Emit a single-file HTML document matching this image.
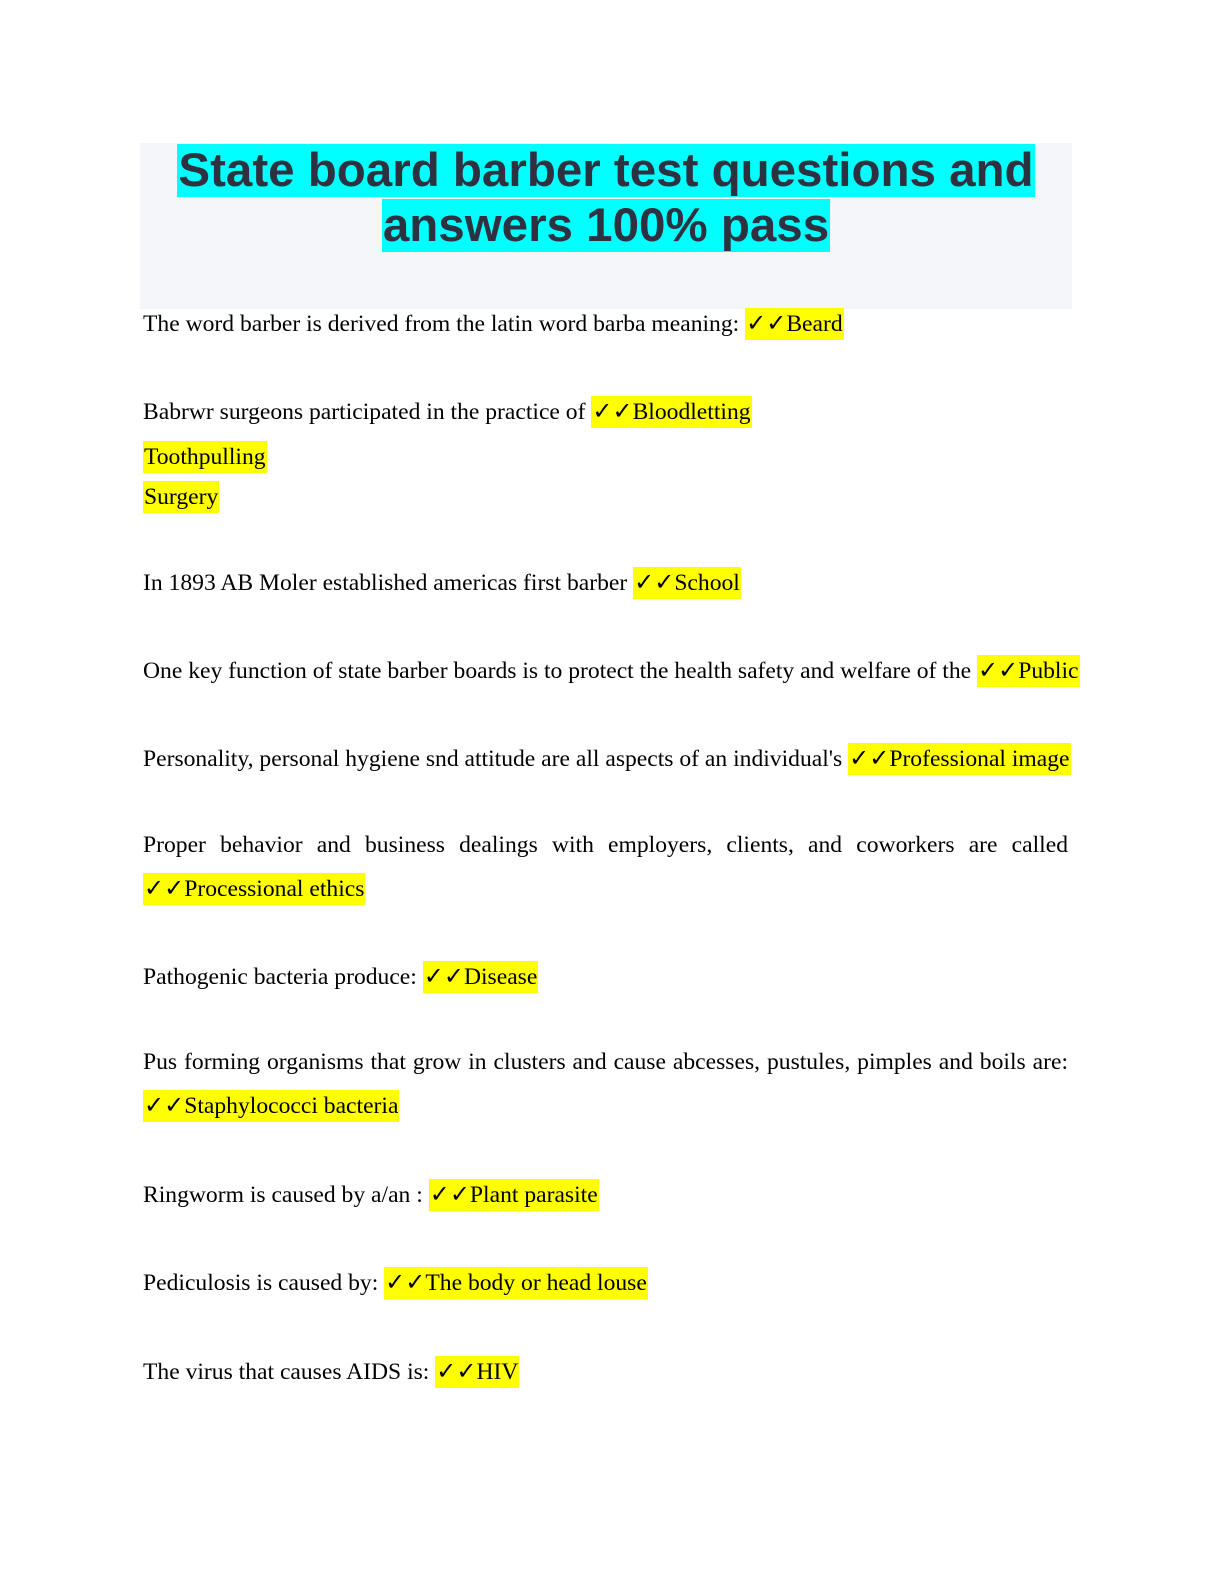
<!DOCTYPE html>
<html><head><meta charset="utf-8"><style>
html,body{margin:0;padding:0;background:#fff;width:1224px;height:1584px;overflow:hidden;position:relative}
.hd{position:absolute;left:140px;top:143px;width:932px;height:166px;background:#f5f6fa}
.t{position:absolute;left:140px;width:932px;text-align:center;font-family:"Liberation Sans",sans-serif;font-weight:bold;font-size:47.5px;line-height:55px;color:#2e3140}
.t span{background:#00ffff;padding:0 1px}
.l{position:absolute;left:143px;font-family:"Liberation Serif",serif;font-size:23.6px;line-height:30px;color:#000;white-space:nowrap}
.h{background:#ffff00;padding:3px 1px}
.c{font-family:"DejaVu Sans",sans-serif;font-weight:bold;font-size:24px;line-height:20px}
.j{width:925px;text-align:justify;text-align-last:justify;white-space:normal}
</style></head><body>
<div class="hd"></div>
<div class="t" style="top:143px"><span>State board barber test questions and</span></div>
<div class="t" style="top:198px"><span>answers 100% pass</span></div>
<div class="l" style="top:309px">The word barber is derived from the latin word barba meaning: <span class="h"><span class="c">✓✓</span>Beard</span></div>
<div class="l" style="top:397px">Babrwr surgeons participated in the practice of <span class="h"><span class="c">✓✓</span>Bloodletting</span></div>
<div class="l" style="top:442px"><span class="h">Toothpulling</span></div>
<div class="l" style="top:482px"><span class="h">Surgery</span></div>
<div class="l" style="top:568px">In 1893 AB Moler established americas first barber <span class="h"><span class="c">✓✓</span>School</span></div>
<div class="l" style="top:656px">One key function of state barber boards is to protect the health safety and welfare of the <span class="h"><span class="c">✓✓</span>Public</span></div>
<div class="l" style="top:744px">Personality, personal hygiene snd attitude are all aspects of an individual's <span class="h"><span class="c">✓✓</span>Professional image</span></div>
<div class="l j" style="top:830px">Proper behavior and business dealings with employers, clients, and coworkers are called</div>
<div class="l" style="top:874px"><span class="h"><span class="c">✓✓</span>Processional ethics</span></div>
<div class="l" style="top:962px">Pathogenic bacteria produce: <span class="h"><span class="c">✓✓</span>Disease</span></div>
<div class="l j" style="top:1047px">Pus forming organisms that grow in clusters and cause abcesses, pustules, pimples and boils are:</div>
<div class="l" style="top:1091px"><span class="h"><span class="c">✓✓</span>Staphylococci bacteria</span></div>
<div class="l" style="top:1180px">Ringworm is caused by a/an : <span class="h"><span class="c">✓✓</span>Plant parasite</span></div>
<div class="l" style="top:1268px">Pediculosis is caused by: <span class="h"><span class="c">✓✓</span>The body or head louse</span></div>
<div class="l" style="top:1357px">The virus that causes AIDS is: <span class="h"><span class="c">✓✓</span>HIV</span></div>
</body></html>
